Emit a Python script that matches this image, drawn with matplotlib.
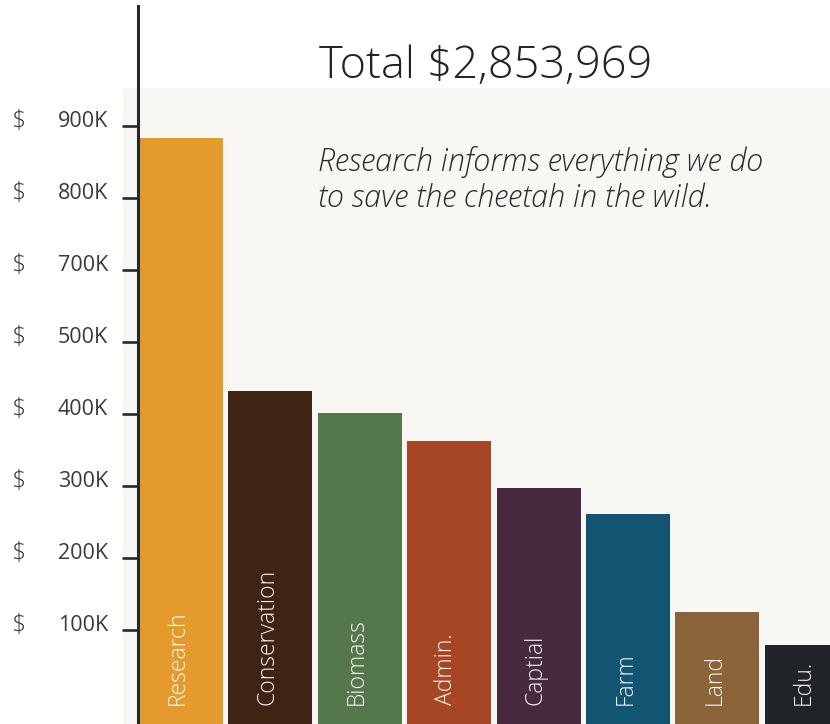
import matplotlib.pyplot as plt
import matplotlib.transforms as mtransforms
from matplotlib.patches import Rectangle

# values (dollars)
categories = ["Research", "Conservation", "Biomass", "Admin.", "Captial", "Farm", "Land", "Edu."]
amounts = [783000, 431000, 401000, 362000, 297000, 261000, 125000, 79000]
colors = ["#e49a2c", "#3f2314", "#54784b", "#a64624", "#472940", "#115572", "#8c643a", "#202328"]

tick_values = [800000, 700000, 600000, 500000, 400000, 300000, 200000, 100000]
tick_labels = ["900K", "800K", "700K", "500K", "400K", "300K", "200K", "100K"]

title = "Total $2,853,969"
subtitle = "Research informs everything we do\nto save the cheetah in the wild."

FONT = "Open Sans"

W, H = 830, 724
fig = plt.figure(figsize=(W / 100, H / 100), dpi=100)
fig.patch.set_facecolor("white")

ax = fig.add_axes([138 / W, 0, (W - 138) / W, (H - 6) / H])
ax.set_facecolor("none")

# light panel behind the plot
ax.add_patch(Rectangle((123 / W, 0), (W - 123) / W, (H - 88) / H,
                       transform=fig.transFigure, facecolor="#f8f7f3",
                       edgecolor="none", zorder=0, clip_on=False))

ymin, ymax = -30500, 966000
x = list(range(len(categories)))
ax.bar(x, [a - ymin for a in amounts], bottom=ymin, width=0.94,
       color=colors, zorder=2)

for xi, name in zip(x, categories):
    ax.text(xi - 0.03, ymin + 26000, name,
            rotation=90, ha="center", va="bottom", color="#f7f5f0",
            fontsize=16.5, family=FONT, fontweight="light", zorder=3)

ax.set_xlim(-0.48, 7.26)
ax.set_ylim(ymin, ymax)

for s in ["top", "right", "bottom"]:
    ax.spines[s].set_visible(False)
ax.spines["left"].set_linewidth(2.2)
ax.spines["left"].set_color("#25272b")
ax.spines["left"].set_zorder(4)

ax.set_xticks([])
ax.set_yticks(tick_values)
ax.set_yticklabels([])
ax.tick_params(axis="y", length=11.5, width=1.9, color="#25272b")

# tick labels: "$" and the amount, drawn a little above each tick
trans = mtransforms.blended_transform_factory(fig.transFigure, ax.transData)
trans = mtransforms.offset_copy(trans, fig=fig, y=4, units="dots")
for v, lab in zip(tick_values, tick_labels):
    ax.text(108 / W, v, lab, transform=trans, ha="right", va="center",
            fontsize=15.5, color="#3a3a3a", family=FONT,
            clip_on=False)
    ax.text(18 / W, v, "$", transform=trans, ha="center", va="center",
            fontsize=18, color="#3a3a3a", family=FONT, fontweight="light",
            clip_on=False)

fig.text(319 / W, 1 - 78 / H, title, ha="left", va="baseline",
         fontsize=32.5, color="#222222", family=FONT, fontweight="light")
fig.text(318 / W, 1 - 146 / H, subtitle, ha="left", va="top",
         fontsize=22, color="#2a2a2a", family=FONT, style="italic",
         fontweight="light", linespacing=1.22)

fig.savefig("out.png", dpi=100)
